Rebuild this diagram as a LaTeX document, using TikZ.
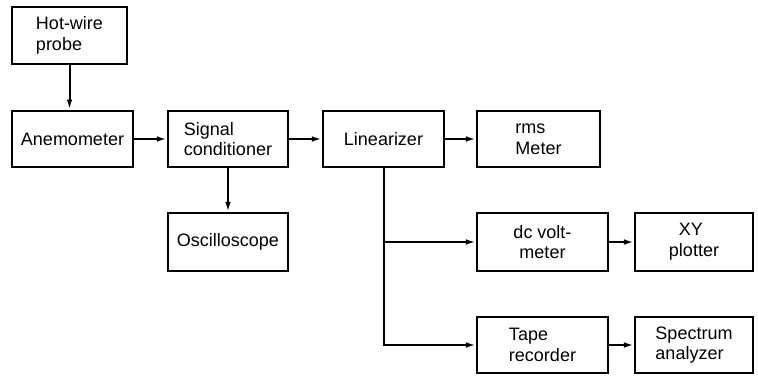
\documentclass[tikz,border=0pt]{standalone}
\usepackage{fontspec}
\setmainfont{Liberation Sans}
\usetikzlibrary{arrows.meta}

\begin{document}
\begin{tikzpicture}[x=0.75pt,y=0.75pt,yscale=-1,xscale=1,
  blockbox/.style={draw,line width=1.6pt,minimum width=90pt,minimum height=42.5pt,inner sep=0.75pt,align=left,font=\fontsize{13.5}{15.5}\selectfont},
  flowline/.style={line width=1.5pt,-{Latex[length=7.5pt,width=4.2pt]}}]
\useasboundingbox (0,0) rectangle (758,376);

%Shape: Rectangle [id:probe] 
    \node (probe) [blockbox,minimum width=86.25pt] at (69.5,35.5) {Hot-wire\\probe};
%Shape: Rectangle [id:anem] 
    \node (anem) [blockbox,minimum width=90.75pt] at (72.5,139) {Anemometer};
%Shape: Rectangle [id:sig] 
    \node (sig) [blockbox] at (228,139) {Signal\\conditioner};
%Shape: Rectangle [id:lin] 
    \node (lin) [blockbox,minimum width=90.75pt] at (383.5,139) {Linearizer};
%Shape: Rectangle [id:rms] 
    \node (rms) [blockbox,minimum width=92.25pt] at (538.5,139) {rms\\Meter};
%Shape: Rectangle [id:osc] 
    \node (osc) [blockbox,minimum height=43.5pt] at (228,242) {Oscilloscope};
%Shape: Rectangle [id:dcv] 
    \node (dcv) [blockbox,minimum width=98.25pt,minimum height=43.5pt,align=center] at (542.5,242) {dc volt-\\meter};
%Shape: Rectangle [id:xy] 
    \node (xy) [blockbox,minimum width=88.5pt,minimum height=43.5pt] at (694,242) {\ \ XY\\plotter};
%Shape: Rectangle [id:tape] 
    \node (tape) [blockbox,minimum width=98.25pt] at (542.5,345) {Tape\\recorder};
%Shape: Rectangle [id:spec] 
    \node (spec) [blockbox,minimum width=88.5pt] at (694,345) {Spectrum\\analyzer};

%Straight Lines 
    \draw [flowline] (probe.south) -- (probe.south |- anem.north) ;
    \draw [flowline] (anem) -- (sig) ;
    \draw [flowline] (sig) -- (lin) ;
    \draw [flowline] (lin) -- (rms) ;
    \draw [flowline] (sig) -- (osc) ;
    \draw [flowline] (lin.south) |- (dcv.west) ;
    \draw [flowline] (lin.south) |- (tape.west) ;
    \draw [flowline] (dcv) -- (xy) ;
    \draw [flowline] (tape) -- (spec) ;

\end{tikzpicture}
\end{document}
